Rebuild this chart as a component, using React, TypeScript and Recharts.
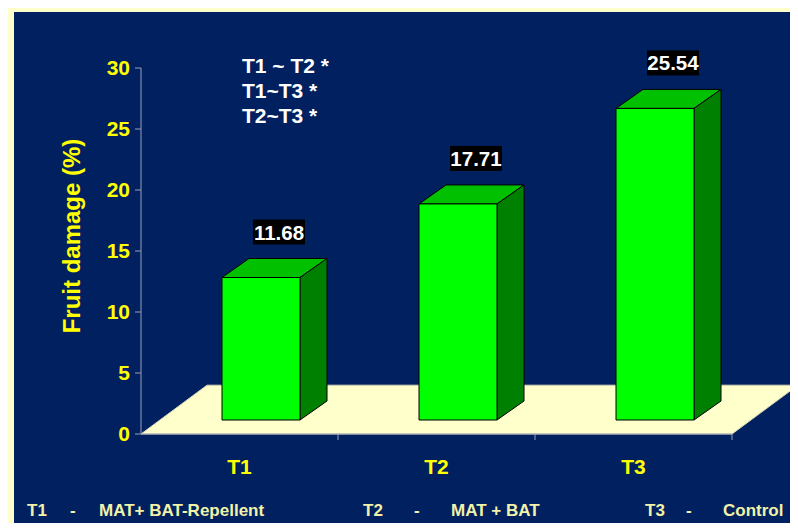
import React from "react";
import {
  BarChart,
  Bar,
  XAxis,
  YAxis,
  LabelList,
  ReferenceArea,
} from "recharts";

const categories = ["T1", "T2", "T3"];
const damage = [11.68, 17.71, 25.54];
const yTicks = [0, 5, 10, 15, 20, 25, 30];
const comparisons = ["T1 ~ T2 *", "T1~T3 *", "T2~T3 *"];
const legendCodes = ["T1", "T2", "T3"];
const legendNames = ["MAT+ BAT-Repellent", "MAT + BAT", "Control"];

const data = categories.map((name, i) => ({ name, damage: damage[i] }));

const FONT = '"Liberation Sans", Arial, sans-serif';
const NAVY = "#002060";
const CREAM = "#FFFFCC";
const AXIS = "#9AA0B8";

// 3d offsets: where the front face sits in the floor, and how deep a bar is
const FRONT_DX = 21;
const FRONT_DY = -14;
const DEPTH_DX = 27;
const DEPTH_DY = -19;
const FLOOR_DX = 66;

const Bar3D = (props: any) => {
  const { x, y, width, height } = props;
  if (height <= 0) return null;
  const fx = x + FRONT_DX;
  const fy = y + FRONT_DY;
  const fb = fy + height;
  const r = fx + width;
  return (
    <g stroke="#000" strokeWidth={1} strokeLinejoin="round">
      <polygon
        points={`${fx},${fy} ${r},${fy} ${r + DEPTH_DX},${fy + DEPTH_DY} ${fx + DEPTH_DX},${fy + DEPTH_DY}`}
        fill="#00C000"
      />
      <polygon
        points={`${r},${fy} ${r + DEPTH_DX},${fy + DEPTH_DY} ${r + DEPTH_DX},${fb + DEPTH_DY} ${r},${fb}`}
        fill="#008000"
      />
      <rect x={fx} y={fy} width={width} height={height} fill="#00FF00" />
    </g>
  );
};

const Floor = (props: any) => {
  const { x, y, width, height } = props;
  const bottom = y + height;
  return (
    <polygon
      points={`${x},${bottom} ${x + width},${bottom} ${x + width + FLOOR_DX},${y} ${x + FLOOR_DX},${y}`}
      fill={CREAM}
      stroke="#D8D8B8"
      strokeWidth={1}
    />
  );
};

const ValueLabel = (props: any) => {
  const vb = props.viewBox || {};
  const x = props.x ?? vb.x;
  const y = props.y ?? vb.y;
  const width = props.width ?? vb.width;
  const cx = x + width / 2 + FRONT_DX + 18;
  const cy = y + FRONT_DY - 45.5;
  return (
    <g>
      <rect x={cx - 26} y={cy - 12.5} width={52} height={25} fill="#000" />
      <text
        x={cx}
        y={cy + 7.5}
        textAnchor="middle"
        fill="#FFFFFF"
        fontFamily={FONT}
        fontWeight="bold"
        fontSize={20.5}
      >
        {Number(props.value).toFixed(2)}
      </text>
    </g>
  );
};

const XTick = (props: any) => {
  const { x, y, payload } = props;
  const band = (798 - 141 - 66) / categories.length;
  return (
    <g>
      <line x1={x + band / 2} y1={y} x2={x + band / 2} y2={y + 6} stroke={AXIS} />
      <text
        x={x}
        y={y + 40}
        textAnchor="middle"
        fill="#FFFF00"
        fontFamily={FONT}
        fontWeight="bold"
        fontSize={21}
      >
        {payload.value}
      </text>
    </g>
  );
};

const YLabel = () => (
  <text
    x={80}
    y={236}
    transform="rotate(-90, 80, 236)"
    textAnchor="middle"
    fill="#FFFF00"
    fontFamily={FONT}
    fontWeight="bold"
    fontSize={24}
  >
    Fruit damage (%)
  </text>
);

const legendPos = [
  { code: 27, dash: 70, name: 99 },
  { code: 363, dash: 414, name: 451 },
  { code: 645, dash: 686, name: 723 },
];

const App: React.FC = () => {
  return (
    <div
      style={{
        position: "relative",
        width: 798,
        height: 531,
        margin: -8,
        background: CREAM,
        overflow: "hidden",
        fontFamily: FONT,
      }}
    >
      <div
        style={{
          position: "absolute",
          left: 14,
          top: 12,
          right: 0,
          bottom: 0,
          background: NAVY,
        }}
      />
      <div style={{ position: "absolute", left: 0, top: 0 }}>
        <BarChart
          width={798}
          height={531}
          data={data}
          margin={{ top: 68, right: 66, bottom: 0, left: 0 }}
        >
          <ReferenceArea
            x1="T1"
            x2="T3"
            y1={0}
            y2={4}
            ifOverflow="visible"
            shape={<Floor />}
          />
          <XAxis
            dataKey="name"
            height={97}
            tickSize={0}
            tickMargin={0}
            tickLine={false}
            axisLine={{ stroke: AXIS }}
            tick={<XTick />}
            interval={0}
          />
          <YAxis
            width={141}
            domain={[0, 30]}
            ticks={yTicks}
            interval={0}
            tickSize={6}
            tickMargin={5}
            axisLine={{ stroke: AXIS }}
            tickLine={{ stroke: AXIS }}
            tick={{ fill: "#FFFF00", fontSize: 21, fontWeight: "bold", fontFamily: FONT }}
            label={<YLabel />}
          />
          <Bar
            dataKey="damage"
            barSize={78}
            shape={<Bar3D />}
            isAnimationActive={false}
          >
            <LabelList dataKey="damage" content={<ValueLabel />} />
          </Bar>
        </BarChart>
      </div>
      {comparisons.map((c, i) => (
        <div
          key={c}
          style={{
            position: "absolute",
            left: 242,
            top: 54 + i * 25,
            color: "#FFFFFF",
            fontWeight: "bold",
            fontSize: 21,
            lineHeight: "24px",
            whiteSpace: "pre",
          }}
        >
          {c}
        </div>
      ))}
      {legendCodes.map((code, i) => (
        <React.Fragment key={code}>
          {[
            { left: legendPos[i].code, text: code },
            { left: legendPos[i].dash, text: "-" },
            { left: legendPos[i].name, text: legendNames[i] },
          ].map((t) => (
            <div
              key={t.left}
              style={{
                position: "absolute",
                left: t.left,
                top: 500,
                color: "#F2F2A8",
                fontWeight: "bold",
                fontSize: 17,
                lineHeight: "22px",
                whiteSpace: "pre",
              }}
            >
              {t.text}
            </div>
          ))}
        </React.Fragment>
      ))}
    </div>
  );
};

export default App;
